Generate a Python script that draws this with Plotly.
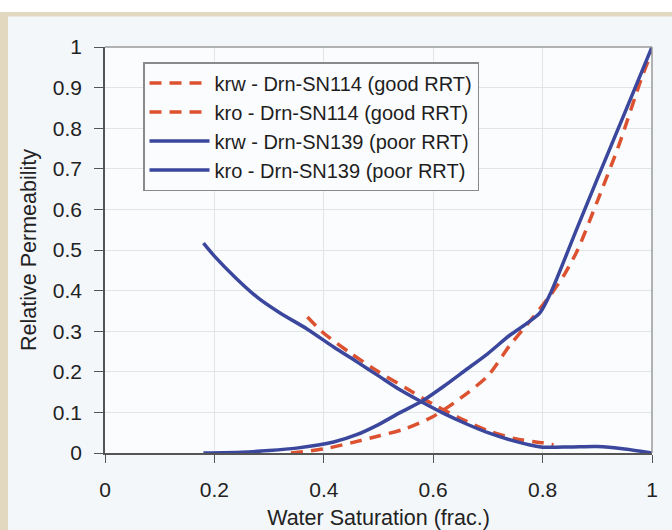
import plotly.graph_objects as go

# ---- data ----
krw_good_x = [0.34, 0.4, 0.45, 0.5, 0.55, 0.6, 0.65, 0.7, 0.74, 0.78, 0.815, 0.84, 0.864, 0.9, 0.94, 0.98, 1.0]
krw_good_y = [0.0, 0.01, 0.025, 0.042, 0.06, 0.09, 0.135, 0.19, 0.265, 0.33, 0.39, 0.44, 0.5, 0.62, 0.76, 0.92, 0.99]

kro_good_x = [0.37, 0.4, 0.45, 0.5, 0.55, 0.6, 0.65, 0.7, 0.75, 0.8, 0.82]
kro_good_y = [0.335, 0.295, 0.245, 0.2, 0.16, 0.12, 0.085, 0.055, 0.035, 0.025, 0.02]

krw_poor_x = [0.18, 0.25, 0.3, 0.35, 0.418, 0.46, 0.5, 0.54, 0.58, 0.62, 0.66, 0.7, 0.74, 0.77, 0.795, 0.815, 0.864, 0.9, 0.95, 1.0]
krw_poor_y = [0.0, 0.002, 0.006, 0.012, 0.027, 0.045, 0.07, 0.1, 0.128, 0.165, 0.205, 0.245, 0.29, 0.318, 0.345, 0.395, 0.557, 0.675, 0.837, 1.0]

kro_poor_x = [0.18, 0.2, 0.24, 0.278, 0.32, 0.37, 0.418, 0.46, 0.5, 0.54, 0.58, 0.62, 0.66, 0.7, 0.747, 0.797, 0.85, 0.9, 0.95, 1.0]
kro_poor_y = [0.517, 0.485, 0.43, 0.384, 0.345, 0.305, 0.261, 0.225, 0.19, 0.155, 0.125, 0.097, 0.072, 0.05, 0.03, 0.015, 0.015, 0.016, 0.01, 0.0]

names = [
    "krw - Drn-SN114 (good RRT)",
    "kro - Drn-SN114 (good RRT)",
    "krw - Drn-SN139 (poor RRT)",
    "kro - Drn-SN139 (poor RRT)",
]

x_ticks = [0, 0.2, 0.4, 0.6, 0.8, 1]
x_ticktext = ["0", "0.2", "0.4", "0.6", "0.8", "1"]
y_ticks = [0, 0.1, 0.2, 0.3, 0.4, 0.5, 0.6, 0.7, 0.8, 0.9, 1]
y_ticktext = ["0", "0.1", "0.2", "0.3", "0.4", "0.5", "0.6", "0.7", "0.8", "0.9", "1"]

RED = "#dc5230"
BLUE = "#3a479c"

fig = go.Figure()
fig.add_trace(go.Scatter(x=krw_good_x, y=krw_good_y, name=names[0], mode="lines",
                         line=dict(color=RED, width=3.5, dash="12px,8px", shape="spline", smoothing=0.7)))
fig.add_trace(go.Scatter(x=kro_good_x, y=kro_good_y, name=names[1], mode="lines",
                         line=dict(color=RED, width=3.5, dash="12px,8px", shape="spline", smoothing=0.7)))
fig.add_trace(go.Scatter(x=krw_poor_x, y=krw_poor_y, name=names[2], mode="lines",
                         line=dict(color=BLUE, width=3.5, shape="spline", smoothing=0.7)))
fig.add_trace(go.Scatter(x=kro_poor_x, y=kro_poor_y, name=names[3], mode="lines",
                         line=dict(color=BLUE, width=3.5, shape="spline", smoothing=0.7)))

L, R, T, B = 105, 20, 47, 77
W, H = 672, 530
pw, ph = W - L - R, H - T - B

def px_x(px):
    return (px - L) / pw

def px_y(py):
    return (H - B - py) / ph

BEIGE = "#e2d7bf"
shapes = [
    dict(type="rect", xref="paper", yref="paper", x0=px_x(-2), x1=px_x(W + 2), y0=px_y(12), y1=px_y(-2),
         fillcolor="white", line=dict(width=0)),
    dict(type="rect", xref="paper", yref="paper", x0=px_x(-2), x1=px_x(W + 2), y0=px_y(16.5), y1=px_y(12),
         fillcolor=BEIGE, line=dict(width=0)),
    dict(type="rect", xref="paper", yref="paper", x0=px_x(-2), x1=px_x(8), y0=px_y(H + 2), y1=px_y(12),
         fillcolor=BEIGE, line=dict(width=0)),
    dict(type="line", xref="paper", yref="paper", x0=0, x1=1, y0=1, y1=1,
         line=dict(color="#9a9a9a", width=1.5)),
    dict(type="line", xref="paper", yref="paper", x0=1, x1=1, y0=0, y1=1,
         line=dict(color="#9a9a9a", width=1.5)),
]

FONT = "Liberation Sans, Arial, sans-serif"

fig.update_layout(
    width=W, height=H,
    margin=dict(l=L, r=R, t=T, b=B, autoexpand=False),
    paper_bgcolor="#f4f7fa",
    plot_bgcolor="#fbfcfd",
    font=dict(family=FONT, color="#222222"),
    showlegend=True,
    shapes=shapes,
    legend=dict(
        x=px_x(143), y=px_y(62), xanchor="left", yanchor="top",
        bgcolor="#fbfcfd", bordercolor="#8a8a8a", borderwidth=1.5,
        font=dict(size=20, family=FONT, color="#1e1e1e"),
        tracegroupgap=0, itemwidth=60,
    ),
    xaxis=dict(
        range=[0, 1], tickvals=x_ticks, ticktext=x_ticktext,
        automargin=False,
        showgrid=True, gridcolor="#e2e5e8", gridwidth=1,
        showline=True, linecolor="#555555", linewidth=1.5,
        ticks="outside", ticklen=8, tickcolor="#555555",
        ticklabelstandoff=9,
        tickfont=dict(size=21), zeroline=False,
        title=dict(text="Water Saturation (frac.)", font=dict(size=21.5), standoff=16),
    ),
    yaxis=dict(
        range=[0, 1], tickvals=y_ticks, ticktext=y_ticktext,
        automargin=False,
        showgrid=True, gridcolor="#e2e5e8", gridwidth=1,
        showline=True, linecolor="#555555", linewidth=1.5,
        ticks="outside", ticklen=9, tickcolor="#555555",
        ticklabelstandoff=8,
        tickfont=dict(size=21), zeroline=False,
        title=dict(text="Relative Permeability", font=dict(size=21.5), standoff=10),
    ),
)

fig.write_html("out.html")
